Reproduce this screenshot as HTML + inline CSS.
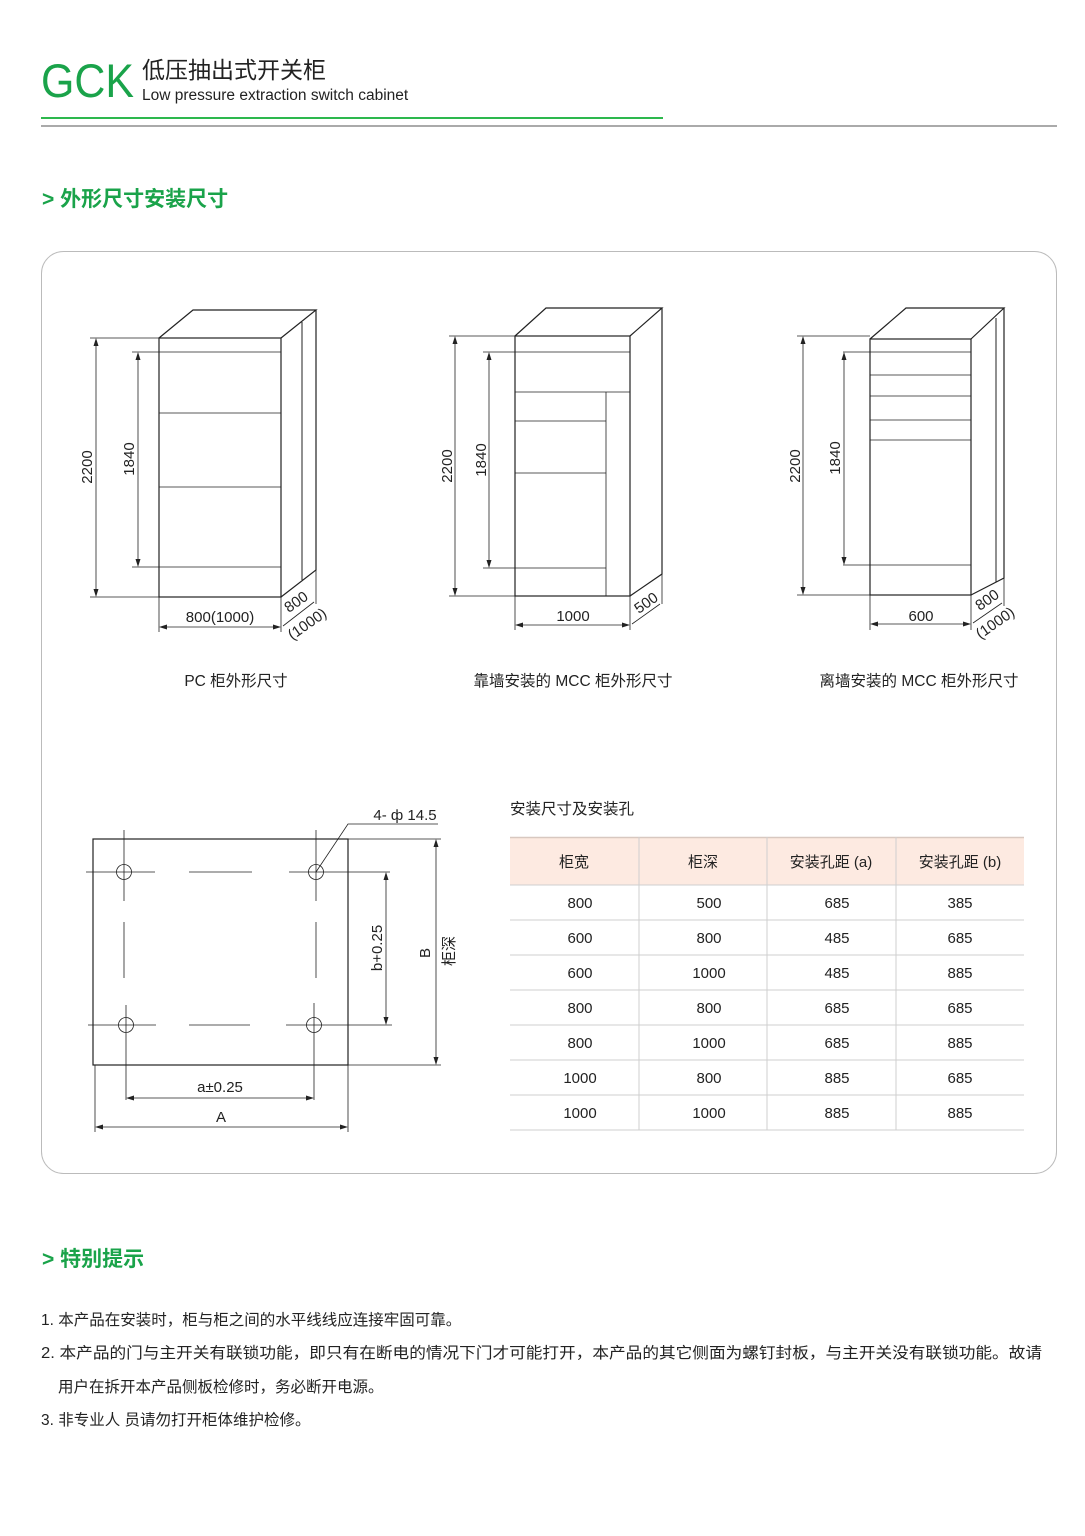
<!DOCTYPE html>
<html><head><meta charset="utf-8">
<style>
html,body{margin:0;padding:0;background:#fff;}
svg{display:block;}
text{font-family:"Liberation Sans","Noto Sans CJK SC",sans-serif;}
</style></head>
<body>
<svg width="1085" height="1536" viewBox="0 0 1085 1536" xmlns="http://www.w3.org/2000/svg">
<!-- header -->
<text x="41" y="97" font-size="47" fill="#1aa34a" textLength="93" lengthAdjust="spacingAndGlyphs">GCK</text>
<text x="142" y="78" font-size="23" fill="#222">低压抽出式开关柜</text>
<text x="142" y="100" font-size="15.5" fill="#222">Low pressure extraction switch cabinet</text>
<rect x="41" y="117" width="622" height="2" fill="#2db84d"/>
<rect x="41" y="125.5" width="1016" height="1" fill="#555"/>
<text x="42" y="206" font-size="21" font-weight="bold" fill="#1aa34a">&gt; 外形尺寸安装尺寸</text>

<rect x="41.5" y="251.5" width="1015" height="922" rx="22" fill="none" stroke="#bbb" stroke-width="1"/>

<g stroke="#222" fill="none" stroke-width="1.2">
<!-- cabinet 1 -->
<rect x="159" y="338" width="122" height="259"/>
<polyline points="159,338 193,310 316,310 281,338"/>
<polyline points="316,310 316,570 281,597"/>
<line x1="302" y1="322" x2="302" y2="580" stroke-width="1"/>
<g stroke-width="0.8">
<line x1="132" y1="352" x2="281" y2="352"/>
<line x1="159" y1="413" x2="281" y2="413"/>
<line x1="159" y1="487" x2="281" y2="487"/>
<line x1="132" y1="567" x2="281" y2="567"/>
<line x1="90" y1="338" x2="159" y2="338"/>
<line x1="90" y1="597" x2="159" y2="597"/>
<line x1="96" y1="340" x2="96" y2="595"/>
<line x1="138" y1="354" x2="138" y2="565"/>
<line x1="159" y1="597" x2="159" y2="632"/>
<line x1="281" y1="597" x2="281" y2="632"/>
<line x1="316" y1="570" x2="316" y2="604"/>
<line x1="161" y1="627" x2="279" y2="627"/>
<line x1="283" y1="626" x2="314" y2="602"/>
</g>
<!-- cabinet 2 -->
<rect x="515" y="336" width="115" height="260"/>
<polyline points="515,336 546,308 662,308 630,336"/>
<polyline points="662,308 662,574 630,596"/>
<g stroke-width="0.8">
<line x1="483" y1="352" x2="630" y2="352"/>
<line x1="515" y1="392" x2="630" y2="392"/>
<line x1="606" y1="392" x2="606" y2="596"/>
<line x1="515" y1="421" x2="606" y2="421"/>
<line x1="515" y1="473" x2="606" y2="473"/>
<line x1="483" y1="568" x2="606" y2="568"/>
<line x1="449" y1="336" x2="515" y2="336"/>
<line x1="449" y1="596" x2="515" y2="596"/>
<line x1="455" y1="338" x2="455" y2="594"/>
<line x1="489" y1="354" x2="489" y2="566"/>
<line x1="515" y1="596" x2="515" y2="630"/>
<line x1="630" y1="596" x2="630" y2="630"/>
<line x1="662" y1="574" x2="662" y2="604"/>
<line x1="517" y1="625" x2="628" y2="625"/>
<line x1="632" y1="624" x2="660" y2="604"/>
</g>
<!-- cabinet 3 -->
<rect x="870" y="339" width="101" height="256"/>
<polyline points="870,339 906,308 1004,308 971,339"/>
<polyline points="1004,308 1004,578 971,595"/>
<line x1="996" y1="318" x2="996" y2="582" stroke-width="1"/>
<g stroke-width="0.8">
<line x1="843" y1="352" x2="971" y2="352"/>
<line x1="870" y1="375" x2="971" y2="375"/>
<line x1="870" y1="396" x2="971" y2="396"/>
<line x1="870" y1="420" x2="971" y2="420"/>
<line x1="870" y1="440" x2="971" y2="440"/>
<line x1="843" y1="565" x2="971" y2="565"/>
<line x1="797" y1="336" x2="870" y2="336"/>
<line x1="797" y1="595" x2="870" y2="595"/>
<line x1="803" y1="338" x2="803" y2="593"/>
<line x1="844" y1="354" x2="844" y2="563"/>
<line x1="870" y1="595" x2="870" y2="630"/>
<line x1="971" y1="595" x2="971" y2="630"/>
<line x1="1004" y1="578" x2="1004" y2="606"/>
<line x1="872" y1="624" x2="969" y2="624"/>
<line x1="973" y1="623" x2="1002" y2="603"/>
</g>

<!-- plan -->
<rect x="93" y="839" width="255" height="226"/>
<g stroke-width="0.8">
<circle cx="124" cy="872" r="7.5"/><circle cx="316" cy="872" r="7.5"/>
<circle cx="126" cy="1025" r="7.5"/><circle cx="314" cy="1025" r="7.5"/>
<line x1="86" y1="872" x2="155" y2="872"/><line x1="189" y1="872" x2="252" y2="872"/><line x1="289" y1="872" x2="390" y2="872"/>
<line x1="88" y1="1025" x2="156" y2="1025"/><line x1="189" y1="1025" x2="250" y2="1025"/><line x1="286" y1="1025" x2="392" y2="1025"/>
<line x1="124" y1="830" x2="124" y2="901"/><line x1="124" y1="922" x2="124" y2="978"/><line x1="126" y1="1005" x2="126" y2="1100"/>
<line x1="316" y1="830" x2="316" y2="901"/><line x1="316" y1="922" x2="316" y2="978"/><line x1="314" y1="1003" x2="314" y2="1100"/>
<line x1="386" y1="874" x2="386" y2="1023"/>
<line x1="348" y1="839" x2="441" y2="839"/><line x1="348" y1="1065" x2="441" y2="1065"/>
<line x1="436" y1="841" x2="436" y2="1063"/>
<line x1="128" y1="1098" x2="312" y2="1098"/>
<line x1="95" y1="1065" x2="95" y2="1132"/><line x1="348" y1="1065" x2="348" y2="1132"/>
<line x1="97" y1="1127" x2="346" y2="1127"/>
<polyline points="316,872 348,824 438,824"/>
</g>
</g>
<!-- arrowheads -->
<g fill="#222">
<path d="M96,338 l-2.5,8 h5z M96,597 l-2.5,-8 h5z M138,352 l-2.5,8 h5z M138,567 l-2.5,-8 h5z M159,627 l8,-2.5 v5z M281,627 l-8,-2.5 v5z"/>
<path d="M455,336 l-2.5,8 h5z M455,596 l-2.5,-8 h5z M489,352 l-2.5,8 h5z M489,568 l-2.5,-8 h5z M515,625 l8,-2.5 v5z M630,625 l-8,-2.5 v5z"/>
<path d="M803,336 l-2.5,8 h5z M803,595 l-2.5,-8 h5z M844,352 l-2.5,8 h5z M844,565 l-2.5,-8 h5z M870,624 l8,-2.5 v5z M971,624 l-8,-2.5 v5z"/>
<path d="M386,872 l-2.5,8 h5z M386,1025 l-2.5,-8 h5z M436,839 l-2.5,8 h5z M436,1065 l-2.5,-8 h5z M126,1098 l8,-2.5 v5z M314,1098 l-8,-2.5 v5z M95,1127 l8,-2.5 v5z M348,1127 l-8,-2.5 v5z"/>
</g>
<!-- dim labels -->
<g font-size="15" fill="#222" text-anchor="middle">
<text transform="translate(92,467) rotate(-90)">2200</text>
<text transform="translate(134,459) rotate(-90)">1840</text>
<text x="220" y="622">800(1000)</text>
<text transform="translate(299,606) rotate(-35)">800</text>
<text transform="translate(310,628) rotate(-35)">(1000)</text>
<text transform="translate(452,466) rotate(-90)">2200</text>
<text transform="translate(486,460) rotate(-90)">1840</text>
<text x="573" y="621">1000</text>
<text transform="translate(649,607) rotate(-35)">500</text>
<text transform="translate(800,466) rotate(-90)">2200</text>
<text transform="translate(840,458) rotate(-90)">1840</text>
<text x="921" y="621">600</text>
<text transform="translate(990,604) rotate(-35)">800</text>
<text transform="translate(998,627) rotate(-35)">(1000)</text>
<text x="405" y="820">4- ф 14.5</text>
<text transform="translate(382,948) rotate(-90)">b+0.25</text>
<text transform="translate(430,953) rotate(-90)">B</text>
<text transform="translate(454,951) rotate(-90)">柜深</text>
<text x="220" y="1092">a±0.25</text>
<text x="221" y="1122">A</text>
</g>
<g font-size="15.5" fill="#222" text-anchor="middle">
<text x="236" y="686">PC 柜外形尺寸</text>
<text x="573" y="686">靠墙安装的 MCC 柜外形尺寸</text>
<text x="919" y="686">离墙安装的 MCC 柜外形尺寸</text>
</g>
<!-- table -->
<text x="510" y="814" font-size="15.5" fill="#222">安装尺寸及安装孔</text>
<rect x="510" y="837" width="514" height="48" fill="#fdeae1"/>
<line x1="510" y1="837.5" x2="1024" y2="837.5" stroke="#d8c8c0" stroke-width="1.5"/>
<g stroke="#cfcfcf" stroke-width="1">
<line x1="510" y1="885" x2="1024" y2="885"/>
<line x1="510" y1="920" x2="1024" y2="920"/>
<line x1="510" y1="955" x2="1024" y2="955"/>
<line x1="510" y1="990" x2="1024" y2="990"/>
<line x1="510" y1="1025" x2="1024" y2="1025"/>
<line x1="510" y1="1060" x2="1024" y2="1060"/>
<line x1="510" y1="1095" x2="1024" y2="1095"/>
<line x1="510" y1="1130" x2="1024" y2="1130"/>
<line x1="639" y1="837" x2="639" y2="1130"/>
<line x1="767" y1="837" x2="767" y2="1130"/>
<line x1="896" y1="837" x2="896" y2="1130"/>
</g>
<g font-size="15" fill="#222" text-anchor="middle">
<text x="574" y="867">柜宽</text><text x="703" y="867">柜深</text><text x="831" y="867">安装孔距 (a)</text><text x="960" y="867">安装孔距 (b)</text>
<text x="580" y="908">800</text><text x="709" y="908">500</text><text x="837" y="908">685</text><text x="960" y="908">385</text>
<text x="580" y="943">600</text><text x="709" y="943">800</text><text x="837" y="943">485</text><text x="960" y="943">685</text>
<text x="580" y="978">600</text><text x="709" y="978">1000</text><text x="837" y="978">485</text><text x="960" y="978">885</text>
<text x="580" y="1013">800</text><text x="709" y="1013">800</text><text x="837" y="1013">685</text><text x="960" y="1013">685</text>
<text x="580" y="1048">800</text><text x="709" y="1048">1000</text><text x="837" y="1048">685</text><text x="960" y="1048">885</text>
<text x="580" y="1083">1000</text><text x="709" y="1083">800</text><text x="837" y="1083">885</text><text x="960" y="1083">685</text>
<text x="580" y="1118">1000</text><text x="709" y="1118">1000</text><text x="837" y="1118">885</text><text x="960" y="1118">885</text>
</g>
<!-- notes -->
<text x="42" y="1266" font-size="21" font-weight="bold" fill="#1aa34a">&gt; 特别提示</text>
<g font-size="15.5" fill="#222">
<text x="41" y="1325">1. 本产品在安装时，柜与柜之间的水平线线应连接牢固可靠。</text>
<text x="41" y="1358" textLength="1001" lengthAdjust="spacingAndGlyphs">2. 本产品的门与主开关有联锁功能，即只有在断电的情况下门才可能打开，本产品的其它侧面为螺钉封板，与主开关没有联锁功能。故请</text>
<text x="58" y="1392">用户在拆开本产品侧板检修时，务必断开电源。</text>
<text x="41" y="1425">3. 非专业人 员请勿打开柜体维护检修。</text>
</g>
</svg>
</body></html>
